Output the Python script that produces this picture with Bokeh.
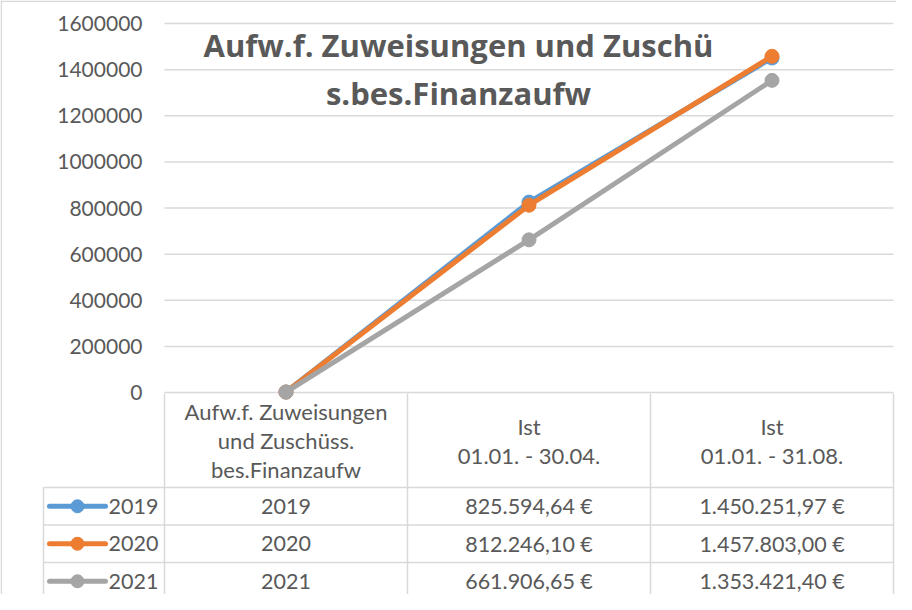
from bokeh.plotting import figure
from bokeh.models import Range1d
from bokeh.core.properties import value
from bokeh.embed import file_html
from bokeh.resources import INLINE

# ---------------- data ----------------
CATEGORY_LINES = [
    ["Aufw.f. Zuweisungen", "und Zuschüss.", "bes.Finanzaufw"],
    ["Ist", "01.01. - 30.04."],
    ["Ist", "01.01. - 31.08."],
]
SERIES = ["2019", "2020", "2021"]
VALUES_2019 = [2019, 825594.64, 1450251.97]
VALUES_2020 = [2020, 812246.10, 1457803.00]
VALUES_2021 = [2021, 661906.65, 1353421.40]
COLORS = ["#5B9BD5", "#ED7D31", "#A5A5A5"]
Y_TICKS = [0, 200000, 400000, 600000, 800000, 1000000, 1200000, 1400000, 1600000]
TITLE_LINES = ["Aufw.f. Zuweisungen und Zuschü", "s.bes.Finanzaufw"]

SERIES_VALUES = [VALUES_2019, VALUES_2020, VALUES_2021]


def fmt_eur(v):
    s = f"{v:,.2f}".replace(",", "X").replace(".", ",").replace("X", ".")
    return s + " €"


# ---------------- layout (canvas px) ----------------
W, H = 896, 594
PLOT_L = 164
COL_W = 243
PLOT_R = PLOT_L + 3 * COL_W
Y0_PX, YTOP_PX = 392, 23
HEADER_TOP = 393
HEADER_BOT = 487
ROW_H = 37.5
LEG_L = 43
HEADER_LINE_H = 29
TEXT_C = "#595959"
GRID_C = "#d9d9d9"
FONT = value("Lato")


def px2x(px):
    return -0.5 + (px - PLOT_L) / COL_W


U = Y_TICKS[-1] / (Y0_PX - YTOP_PX)

p = figure(
    width=W, height=H,
    x_range=Range1d(px2x(0), px2x(W)),
    y_range=Range1d(-(H - Y0_PX) * U, Y_TICKS[-1] + YTOP_PX * U),
    x_axis_type=None, y_axis_type=None,
    output_backend="svg", toolbar_location=None, tools="",
    min_border=0, outline_line_color=None,
)
p.extra_y_ranges = {"px": Range1d(H, 0)}

# outer border (left / top)
p.segment(x0=[px2x(0.75), px2x(0)], x1=[px2x(0.75), px2x(W)],
          y0=[0, 0.75], y1=[H, 0.75], y_range_name="px",
          line_color=GRID_C, line_width=1.5)

# grid lines
p.segment(x0=px2x(PLOT_L), x1=px2x(PLOT_R), y0=Y_TICKS, y1=Y_TICKS,
          line_color=GRID_C, line_width=1.5)

# y tick labels
p.text(x=[px2x(142)] * len(Y_TICKS), y=Y_TICKS, text=[str(t) for t in Y_TICKS],
       text_font=FONT, text_font_size=value("21px"), text_color=TEXT_C,
       text_align="right", text_baseline="middle")

# title
p.text(x=[px2x(458)] * 2, y=[44, 92], text=TITLE_LINES, y_range_name="px",
       text_font=value("Open Sans"), text_font_size=value("31px"), text_font_style="bold",
       text_color=TEXT_C, text_align="center", text_baseline="middle")

# table borders
hy = [HEADER_BOT + k * ROW_H for k in range(4)]
p.segment(x0=px2x(LEG_L), x1=px2x(PLOT_R), y0=hy, y1=hy, y_range_name="px",
          line_color=GRID_C, line_width=1.5)
vx = [px2x(PLOT_L + k * COL_W) for k in range(4)]
p.segment(x0=vx, x1=vx, y0=HEADER_TOP, y1=H, y_range_name="px",
          line_color=GRID_C, line_width=1.5)
p.segment(x0=px2x(LEG_L), x1=px2x(LEG_L), y0=HEADER_BOT, y1=H, y_range_name="px",
          line_color=GRID_C, line_width=1.5)

# header texts
hx, hyy, ht = [], [], []
center = (HEADER_TOP + HEADER_BOT) / 2
for i, lines in enumerate(CATEGORY_LINES):
    n = len(lines)
    for j, ln in enumerate(lines):
        hx.append(i)
        hyy.append(center + (j - (n - 1) / 2) * HEADER_LINE_H)
        ht.append(ln)
p.text(x=hx, y=hyy, text=ht, y_range_name="px", text_font=FONT,
       text_font_size=value("22px"), text_color=TEXT_C,
       text_align="center", text_baseline="middle")

# table rows + legend keys
for r, (name, vals, col) in enumerate(zip(SERIES, SERIES_VALUES, COLORS)):
    cy = HEADER_BOT + (r + 0.5) * ROW_H
    cells = [str(int(vals[0]))] + [fmt_eur(v) for v in vals[1:]]
    p.text(x=[0, 1, 2], y=[cy] * 3, text=cells, y_range_name="px", text_font=FONT,
           text_font_size=value("21.5px"), text_color=TEXT_C,
           text_align="center", text_baseline="middle")
    p.segment(x0=px2x(49), x1=px2x(105), y0=cy, y1=cy, y_range_name="px",
              line_color=col, line_width=5, line_cap="round")
    p.scatter(x=[px2x(77)], y=[cy], y_range_name="px", size=13, color=col)
    p.text(x=[px2x(108)], y=[cy], text=[name], y_range_name="px", text_font=FONT,
           text_font_size=value("21.5px"), text_color=TEXT_C,
           text_align="left", text_baseline="middle")

# series lines
for vals, col in zip(SERIES_VALUES, COLORS):
    p.line(x=[0, 1, 2], y=vals, line_color=col, line_width=5, line_join="round")
    p.scatter(x=[0, 1, 2], y=vals, size=14, color=col)

open("out.html", "w").write(file_html(p, INLINE))
